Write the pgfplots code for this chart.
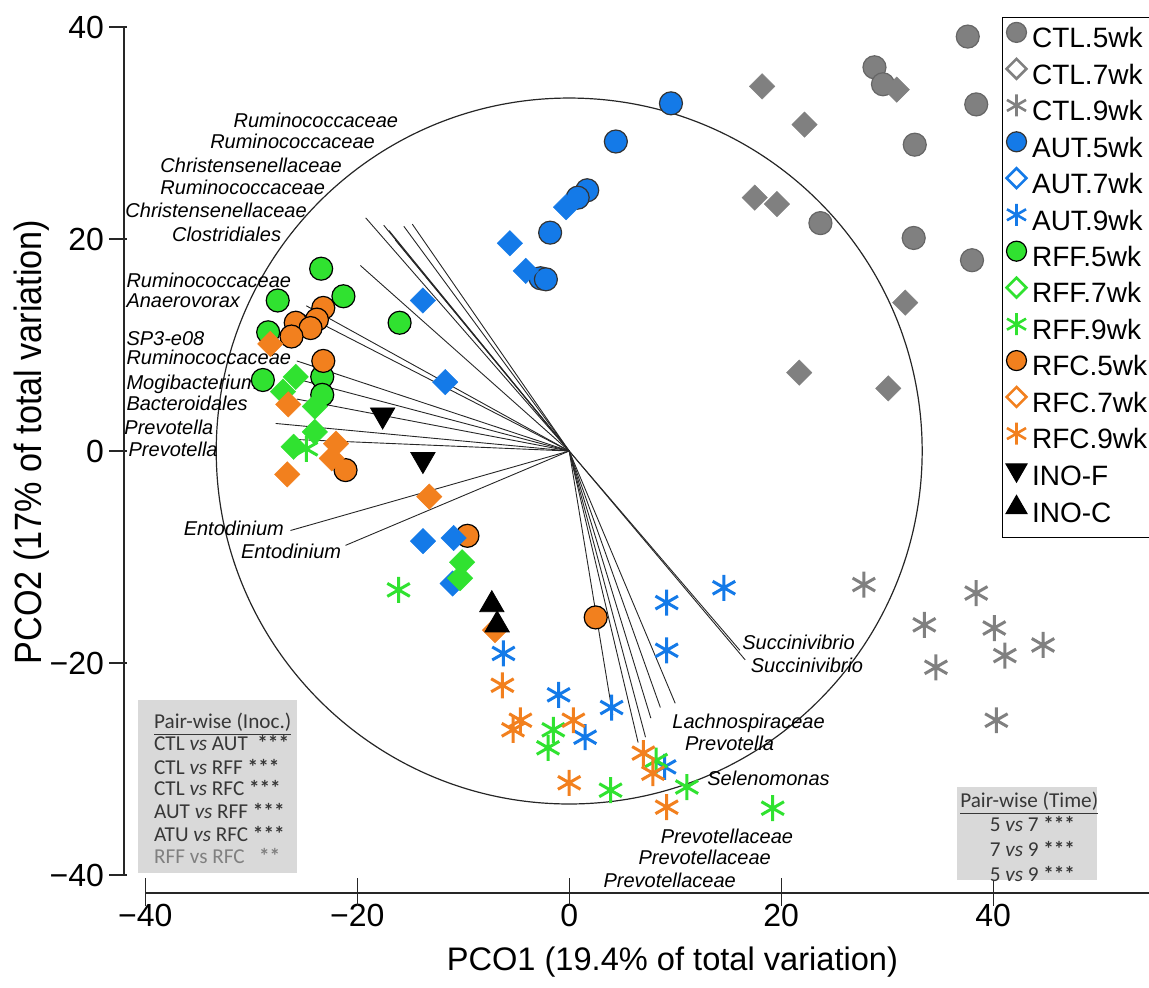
\documentclass[border=0pt]{standalone}
\usepackage{pgfplots}
\usepackage{pgfplotstable}
\pgfplotsset{compat=1.18}
\usepackage{fontspec}
\setmainfont{Liberation Sans}
\newfontfamily\boxfont{Carlito}

\definecolor{ctl}{RGB}{128,128,128}
\definecolor{aut}{RGB}{20,122,232}
\definecolor{rff}{RGB}{48,226,48}
\definecolor{rfc}{RGB}{242,128,30}
\definecolor{boxgray}{RGB}{217,217,217}
\definecolor{boxtext}{RGB}{55,55,55}

\tikzset{
  lbl/.style={anchor=base west, inner sep=0pt, font=\fontsize{10}{12}\selectfont\itshape},
  pw/.style={anchor=base west, inner sep=0pt, text=boxtext, font=\boxfont\fontsize{10.6}{12}\selectfont},
}
\pgfplotsset{
  dot/.style 2 args={only marks, mark=*, mark size=5.75pt,
    mark options={fill=#1, draw=#2, line width=0.6pt}},
  dia/.style={only marks, mark=square*, mark size=4.5pt, color=#1,
    mark options={rotate=45, fill=#1, draw=#1, line width=0.2pt}},
  ast/.style={only marks, mark=asterisk, mark size=6.5pt, color=#1,
    mark options={line width=1.5pt}},
  ldot/.style 2 args={only marks, mark=*, mark size=5pt,
    mark options={fill=#1, draw=#2, line width=0.6pt}},
  ldia/.style={only marks, mark=square, mark size=3.5pt,
    mark options={rotate=45, draw=#1, fill=white, line width=1.3pt}},
  last/.style={only marks, mark=asterisk, mark size=5.5pt,
    mark options={draw=#1, line width=1.3pt}},
}

% PCO scores per group
\pgfplotstableread{
x y
37.6 39.1
28.8 36.2
29.6 34.6
38.4 32.7
32.6 28.9
23.7 21.5
32.5 20.1
38.0 18.0
}\ctlfive
\pgfplotstableread{
x y
18.2 34.4
22.2 30.8
17.5 23.9
19.6 23.3
30.9 34.1
31.7 14.0
21.7 7.4
30.1 5.9
}\ctlseven
\pgfplotstableread{
x y
27.8 -12.6
38.4 -13.4
33.5 -16.4
40.1 -16.7
34.6 -20.4
41.1 -19.3
44.7 -18.3
40.3 -25.4
}\ctlnine
\pgfplotstableread{
x y
9.6 32.8
4.4 29.2
1.7 24.6
0.8 23.9
-1.8 20.6
-2.7 16.3
-2.2 16.2
}\autfive
\pgfplotstableread{
x y
-0.3 23.0
-5.6 19.6
-4.1 17.0
-13.8 14.2
-11.7 6.5
-13.8 -8.5
-10.9 -8.2
-11.0 -12.5
}\autseven
\pgfplotstableread{
x y
14.6 -12.9
9.2 -14.3
9.2 -18.8
-6.2 -19.1
-1.0 -23.0
4.0 -24.2
1.5 -27.0
9.0 -29.8
}\autnine
\pgfplotstableread{
x y
-23.4 17.2
-27.5 14.2
-21.3 14.6
-16.0 12.1
-28.4 11.2
-28.9 6.7
-23.3 7.0
-23.3 5.3
}\rfffive
\pgfplotstableread{
x y
-25.8 7.0
-27.0 5.6
-24.0 4.2
-24.0 1.8
-26.0 0.4
-10.1 -10.5
-10.3 -12.0
}\rffseven
\pgfplotstableread{
x y
-24.8 0.2
-16.1 -13.1
-1.5 -26.3
-2.0 -28.0
3.9 -32.0
11.1 -31.7
8.2 -29.2
19.2 -33.7
}\rffnine
\pgfplotstableread{
x y
-23.2 13.5
-23.8 12.4
-25.8 12.1
-24.4 11.6
-26.2 10.8
-23.2 8.5
-21.1 -1.8
-9.6 -8.0
2.5 -15.7
}\rfcfive
\pgfplotstableread{
x y
-28.2 10.1
-26.5 4.4
-22.0 0.7
-22.4 -0.7
-26.6 -2.2
-13.2 -4.3
-7.0 -16.9
}\rfcseven
\pgfplotstableread{
x y
-6.3 -22.1
-4.6 -25.4
-5.3 -26.3
0.4 -25.4
0.0 -31.3
7.0 -28.5
7.9 -30.4
9.2 -33.6
}\rfcnine
\pgfplotstableread{
x y
-17.6 3.4
-13.8 -0.8
}\inof
\pgfplotstableread{
x y
-7.3 -14.5
-6.8 -16.4
}\inoc
% taxon correlation vectors (end points, drawn from the origin)
\pgfplotstableread{
u v
-19.2 22.0
-17.5 21.3
-17.0 20.8
-16.4 19.9
-15.6 21.2
-14.8 21.4
-19.7 17.5
-24.8 13.7
-25.7 13.2
-25.7 8.5
-26.1 6.9
-25.7 4.9
-27.7 2.6
-26.1 1.1
-26.3 -7.5
-21.1 -8.9
16.1 -18.8
16.6 -19.7
10.0 -23.8
8.6 -24.2
7.7 -25.2
7.2 -27.0
6.5 -27.5
4.1 -24.9
}\vectors

\begin{document}
\begin{tikzpicture}
\begin{axis}[
  x=5.3pt, y=5.3pt,
  xmin=-42, xmax=54.7, ymin=-41.7, ymax=42.55,
  clip=false,
  axis lines*=left,
  axis line style={draw=none},
  major tick length=0pt,
  xtick={-40,-20,0,20,40},
  ytick={-40,-20,0,20,40},
  xticklabels={−40,−20,0,20,40},
  yticklabels={−40,−20,0,20,40},
  ticklabel style={font=\fontsize{16}{19}\selectfont},
  xticklabel style={yshift=-2pt},
  yticklabel style={xshift=-6.5pt},
  xlabel={PCO1 (19.4\% of total variation)},
  ylabel={\scalebox{0.9}[1]{PCO2 (17\% of total variation)}},
  every axis x label/.style={at={(rel axis cs:0.535,-0.077)}, anchor=center,
    font=\fontsize{16.3}{19}\selectfont},
  every axis y label/.style={at={(rel axis cs:-0.090,0.505)}, anchor=center, rotate=90,
    font=\fontsize{19}{23}\selectfont},
  legend style={at={(rel axis cs:1,1)}, anchor=north east, yshift=-8.5pt, xshift=4pt,
    draw=black, line width=0.6pt, fill=white,
    font=\fontsize{14}{16}\selectfont,
    inner xsep=2pt, inner ysep=2pt, row sep=0pt,
    nodes={inner sep=2.6pt, text height=10.5pt, text depth=2.5pt}},
  legend cell align=left,
  legend image code/.code={\draw[#1] plot coordinates {(0.24cm,0.13cm)};},
]

% axis lines and ticks
\draw[line width=0.7pt, black!85] (axis cs:-42,-40) -- (axis cs:-42,40);
\draw[line width=0.7pt, black!85] (axis cs:-40,-41.7) -- (axis cs:54.7,-41.7);
\pgfplotsinvokeforeach{-40,-20,0,20,40}{
  \draw[line width=0.7pt, black!85] (axis cs:-43.4,#1) -- (axis cs:-41.7,#1);
  \draw[line width=0.7pt, black!85] (axis cs:#1,-40.3) -- (axis cs:#1,-42.9);
}

% pair-wise test boxes
\fill[boxgray] (axis cs:-40.7,-23.5) rectangle (axis cs:-25.7,-39.8);
\fill[boxgray] (axis cs:36.6,-31.7) rectangle (axis cs:49.8,-40.5);
\node[pw] at (axis cs:-39.2,-26.2) {\underline{Pair-wise (Inoc.)}};
\node[pw] at (axis cs:-39.2,-28.3) {CTL \textit{vs} AUT\ \ \textbf{***}};
\node[pw] at (axis cs:-39.2,-30.5) {CTL \textit{vs} RFF\ \textbf{***}};
\node[pw] at (axis cs:-39.2,-32.5) {CTL \textit{vs} RFC\ \textbf{***}};
\node[pw] at (axis cs:-39.2,-34.7) {AUT \textit{vs} RFF\ \textbf{***}};
\node[pw] at (axis cs:-39.2,-36.8) {ATU \textit{vs} RFC\ \textbf{***}};
\node[pw, text=black!50] at (axis cs:-39.2,-38.9) {RFF vs RFC\ \ \ \textbf{**}};
\node[pw, anchor=base] at (axis cs:43.4,-33.6) {\underline{Pair-wise (Time)}};
\node[pw, anchor=base] at (axis cs:43.7,-35.9) {5 \textit{vs} 7 \textbf{***}};
\node[pw, anchor=base] at (axis cs:43.7,-38.3) {7 \textit{vs} 9 \textbf{***}};
\node[pw, anchor=base] at (axis cs:43.7,-40.6) {5 \textit{vs} 9 \textbf{***}};

% scores: 5 wk
\addplot[dot={ctl}{black!60}, forget plot] table {\ctlfive};
\addplot[dot={aut}{black!80}, forget plot] table {\autfive};
\addplot[dot={rff}{black}, forget plot] table {\rfffive};
\addplot[dot={rfc}{black}, forget plot] table {\rfcfive};
% 7 wk
\addplot[dia=ctl, forget plot] table {\ctlseven};
\addplot[dia=aut, forget plot] table {\autseven};
\addplot[dia=rff, forget plot] table {\rffseven};
\addplot[dia=rfc, forget plot] table {\rfcseven};
% 9 wk
\addplot[ast=ctl, forget plot] table {\ctlnine};
\addplot[ast=aut, forget plot] table {\autnine};
\addplot[ast=rff, forget plot] table {\rffnine};
\addplot[ast=rfc, forget plot] table {\rfcnine};
% inocula
\addplot[only marks, mark=triangle*, mark size=7pt, mark options={rotate=180, fill=black, draw=black}, forget plot] table {\inof};
\addplot[only marks, mark=triangle*, mark size=7pt, mark options={fill=black, draw=black}, forget plot] table {\inoc};

% correlation vectors and unit circle
\addplot[black!85, line width=0.45pt, mark=none, forget plot,
  quiver={u=\thisrow{u}, v=\thisrow{v}}] table[x expr=0, y expr=0] {\vectors};
\draw[black!85, line width=0.6pt] (axis cs:0,0) circle[radius=33.3];

% taxon labels
\node[lbl] at (axis cs:-31.7,30.5) {Ruminococcaceae};
\node[lbl] at (axis cs:-33.9,28.5) {Ruminococcaceae};
\node[lbl] at (axis cs:-38.6,26.3) {Christensenellaceae};
\node[lbl] at (axis cs:-38.6,24.2) {Ruminococcaceae};
\node[lbl] at (axis cs:-41.9,22.0) {Christensenellaceae};
\node[lbl] at (axis cs:-37.5,19.8) {Clostridiales};
\node[lbl] at (axis cs:-41.8,15.4) {Ruminococcaceae};
\node[lbl] at (axis cs:-41.8,13.5) {Anaerovorax};
\node[lbl] at (axis cs:-41.8,10.0) {SP3-e08};
\node[lbl] at (axis cs:-41.8,8.2) {Ruminococcaceae};
\node[lbl] at (axis cs:-41.8,5.8) {Mogibacterium};
\node[lbl] at (axis cs:-41.8,3.8) {Bacteroidales};
\node[lbl] at (axis cs:-42.0,1.6) {Prevotella};
\node[lbl] at (axis cs:-41.6,-0.5) {Prevotella};
\node[lbl] at (axis cs:-36.4,-8.0) {Entodinium};
\node[lbl] at (axis cs:-31.0,-10.1) {Entodinium};
\node[lbl] at (axis cs:16.3,-18.7) {Succinivibrio};
\node[lbl] at (axis cs:17.1,-20.9) {Succinivibrio};
\node[lbl] at (axis cs:9.7,-26.2) {Lachnospiraceae};
\node[lbl] at (axis cs:10.9,-28.3) {Prevotella};
\node[lbl] at (axis cs:13.0,-31.6) {Selenomonas};
\node[lbl] at (axis cs:8.6,-37.0) {Prevotellaceae};
\node[lbl] at (axis cs:6.5,-39.0) {Prevotellaceae};
\node[lbl] at (axis cs:3.2,-41.2) {Prevotellaceae};

% legend
\addlegendimage{ldot={ctl}{black!60}}
\addlegendentry{CTL.5wk}
\addlegendimage{ldia=ctl}
\addlegendentry{CTL.7wk}
\addlegendimage{last=ctl}
\addlegendentry{CTL.9wk}
\addlegendimage{ldot={aut}{black!80}}
\addlegendentry{AUT.5wk}
\addlegendimage{ldia=aut}
\addlegendentry{AUT.7wk}
\addlegendimage{last=aut}
\addlegendentry{AUT.9wk}
\addlegendimage{ldot={rff}{black}}
\addlegendentry{RFF.5wk}
\addlegendimage{ldia=rff}
\addlegendentry{RFF.7wk}
\addlegendimage{last=rff}
\addlegendentry{RFF.9wk}
\addlegendimage{ldot={rfc}{black}}
\addlegendentry{RFC.5wk}
\addlegendimage{ldia=rfc}
\addlegendentry{RFC.7wk}
\addlegendimage{last=rfc}
\addlegendentry{RFC.9wk}
\addlegendimage{only marks, mark=triangle*, mark size=6pt, mark options={rotate=180, fill=black, draw=black}}
\addlegendentry{INO-F}
\addlegendimage{only marks, mark=triangle*, mark size=6pt, mark options={fill=black, draw=black}}
\addlegendentry{INO-C}

% page extent
\coordinate (pagesw) at (axis cs:-53.7,-50.6);
\coordinate (pagene) at (axis cs:54.7,42.55);
\end{axis}
\pgfresetboundingbox
\useasboundingbox (pagesw) rectangle (pagene);
\end{tikzpicture}
\end{document}
